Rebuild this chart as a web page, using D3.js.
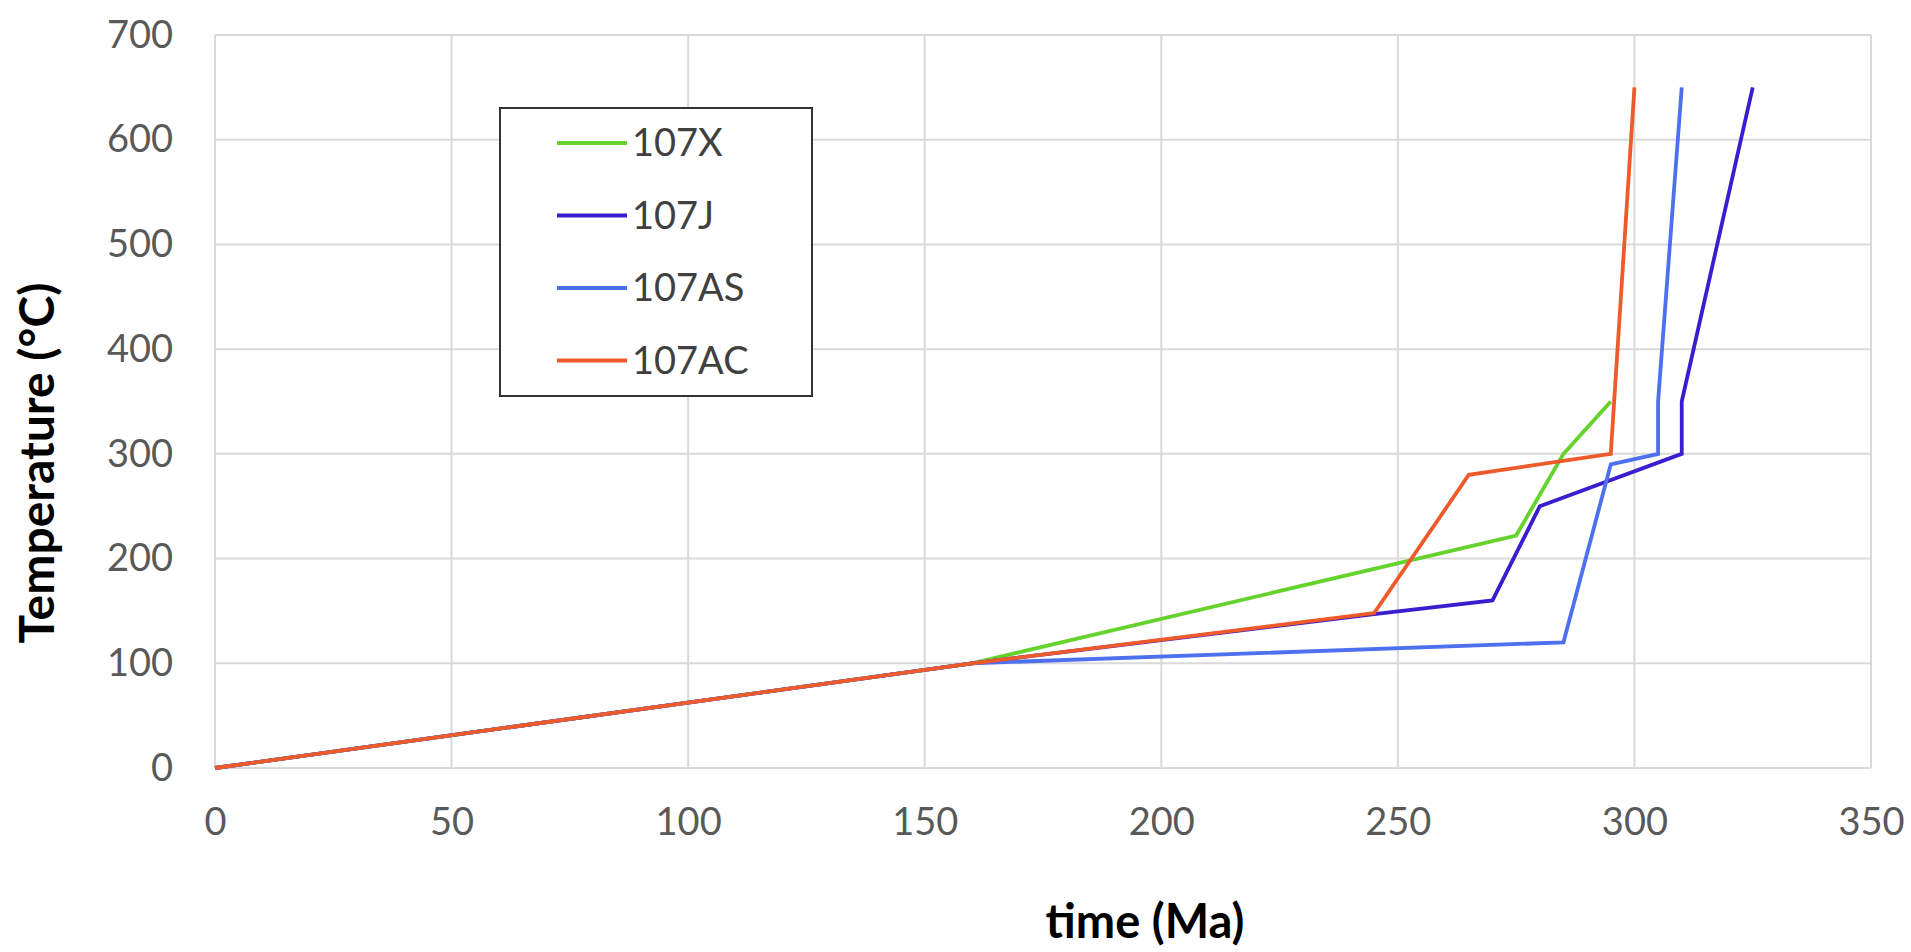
<!DOCTYPE html>
<html>
<head>
<meta charset="utf-8">
<script src="https://cdn.jsdelivr.net/npm/d3@7"></script>
<style>
  body { margin: 0; background: #fff; }
  text { font-family: Lato, "Open Sans", sans-serif; }
</style>
</head>
<body>
<div id="chart"></div>
<script>
// series names and colours
const names = ["107X", "107J", "107AS", "107AC"];
const colors = ["#66d22e", "#3b1ccf", "#4d70ee", "#ee5a2a"];

// time (Ma) / temperature (°C)
const t107X  = [0, 160, 275, 285, 295];
const T107X  = [0, 100, 222, 300, 350];
const t107J  = [0, 160, 245, 270, 280, 310, 310, 325];
const T107J  = [0, 100, 147, 160, 250, 300, 350, 650];
const t107AS = [0, 160, 285, 295, 305, 305, 310];
const T107AS = [0, 100, 120, 290, 300, 350, 650];
const t107AC = [0, 160, 245, 265, 295, 300];
const T107AC = [0, 100, 148, 280, 300, 650];

const xTicks = [0, 50, 100, 150, 200, 250, 300, 350];
const yTicks = [0, 100, 200, 300, 400, 500, 600, 700];

const width = 1911, height = 952;
const plotLeft = 215, plotRight = 1871, plotTop = 35, plotBottom = 768;

const series = [
  {name: names[0], t: t107X, T: T107X},
  {name: names[1], t: t107J, T: T107J},
  {name: names[2], t: t107AS, T: T107AS},
  {name: names[3], t: t107AC, T: T107AC}
].map((s, i) => ({...s, color: colors[i], pts: s.t.map((d, j) => [d, s.T[j]])}));

const svg = d3.select("#chart")
  .append("svg")
  .attr("width", width)
  .attr("height", height);

const x = d3.scaleLinear().domain([0, 350]).range([plotLeft, plotRight]);
const y = d3.scaleLinear().domain([0, 700]).range([plotBottom, plotTop]);

// gridlines
svg.append("g")
  .selectAll("line")
  .data(yTicks)
  .enter().append("line")
  .attr("x1", plotLeft).attr("x2", plotRight)
  .attr("y1", d => y(d)).attr("y2", d => y(d))
  .attr("stroke", "#d9d9d9").attr("stroke-width", 2);

svg.append("g")
  .selectAll("line")
  .data(xTicks)
  .enter().append("line")
  .attr("y1", plotTop).attr("y2", plotBottom)
  .attr("x1", d => x(d)).attr("x2", d => x(d))
  .attr("stroke", "#d9d9d9").attr("stroke-width", 2);

// axes, labels only
const xAxis = svg.append("g")
  .attr("transform", `translate(0,${plotBottom})`)
  .call(d3.axisBottom(x).tickValues(xTicks).tickSize(0).tickPadding(40));
const yAxis = svg.append("g")
  .attr("transform", `translate(${plotLeft},0)`)
  .call(d3.axisLeft(y).tickValues(yTicks).tickSize(0).tickPadding(42));
[xAxis, yAxis].forEach(a => {
  a.select(".domain").remove();
  a.selectAll("text")
    .attr("fill", "#595959")
    .style("font-size", "38px")
    .style("font-family", "Lato, 'Open Sans', sans-serif");
});

// lines
const line = d3.line().x(d => x(d[0])).y(d => y(d[1]));
svg.append("g")
  .selectAll("path")
  .data(series)
  .enter().append("path")
  .attr("d", d => line(d.pts))
  .attr("fill", "none")
  .attr("stroke", d => d.color)
  .attr("stroke-width", 3.8)
  .attr("stroke-linejoin", "miter");

// axis titles
svg.append("text")
  .attr("x", 1145).attr("y", 938)
  .attr("text-anchor", "middle")
  .style("font-size", "47px").style("font-weight", "bold")
  .attr("fill", "#000")
  .text("time (Ma)");

svg.append("text")
  .attr("transform", "translate(54,463) rotate(-90)")
  .attr("text-anchor", "middle")
  .style("font-size", "48px").style("font-weight", "bold")
  .attr("fill", "#000")
  .text("Temperature (°C)");

// legend
const legend = svg.append("g");
legend.append("rect")
  .attr("x", 500).attr("y", 108)
  .attr("width", 312).attr("height", 288)
  .attr("fill", "#fff").attr("stroke", "#333").attr("stroke-width", 2);

const rows = legend.selectAll("g")
  .data(series)
  .enter().append("g")
  .attr("transform", (d, i) => `translate(0,${143 + i * 72.5})`);
rows.append("line")
  .attr("x1", 557).attr("x2", 627)
  .attr("stroke", d => d.color).attr("stroke-width", 3.8);
rows.append("text")
  .attr("x", 632).attr("dy", "0.35em")
  .attr("fill", "#404040")
  .style("font-size", "38px")
  .text(d => d.name);
</script>
</body>
</html>
